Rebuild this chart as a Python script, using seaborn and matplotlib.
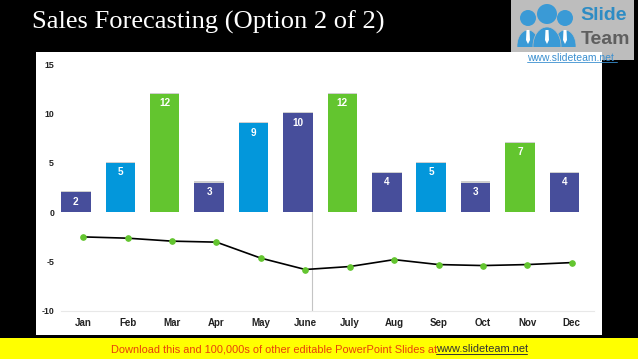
import matplotlib
matplotlib.use("Agg")
import matplotlib.pyplot as plt
from matplotlib.patches import Rectangle, Circle, Polygon, Ellipse
import matplotlib.patheffects as pe
import seaborn as sns
import pandas as pd

months = ["Jan", "Feb", "Mar", "Apr", "May", "June", "July", "Aug", "Sep", "Oct", "Nov", "Dec"]
bar_values = [2, 5, 12, 3, 9, 10, 12, 4, 5, 3, 7, 4]
line_values = [-2.5, -2.63, -2.93, -3.03, -4.65, -5.8, -5.5, -4.8, -5.3, -5.4, -5.3, -5.1]
bar_groups = ["n", "b", "g", "n", "b", "n", "g", "n", "b", "n", "g", "n"]
palette = {"n": "#474E9B", "b": "#0397DB", "g": "#63C52F"}
yticks = [-10, -5, 0, 5, 10, 15]

W, H = 638, 359
BAR_SHIFT = -0.165
sns.set_theme(style="white")
plt.rcParams["font.family"] = ["Liberation Sans", "DejaVu Sans"]
plt.rcParams["axes.unicode_minus"] = False

fig = plt.figure(figsize=(W / 100, H / 100), dpi=100, facecolor="black")

# page furniture in pixel coordinates
bg = fig.add_axes([0, 0, 1, 1], zorder=0)
bg.set_xlim(0, W); bg.set_ylim(H, 0); bg.axis("off")
bg.add_patch(Rectangle((36, 52), 566, 283, fc="white", ec="none"))
bg.add_patch(Rectangle((0, 338), W, 21, fc="#FFFF00", ec="none"))
bg.text(32, 22.5, "Sales Forecasting (Option 2 of 2)", family="Liberation Serif", color="white",
        fontsize=19.05, va="center", ha="left")
bg.text(111, 349.5, "Download this and 100,000s of other editable PowerPoint Slides at",
        color="#E8420A", fontsize=7.95, va="center", ha="left")
bg.text(436, 349.5, "www.slideteam.net", color="#333333", fontsize=7.95, va="center", ha="left")
bg.plot([436, 527], [354, 354], color="#333333", lw=0.7)

# logo
bg.add_patch(Rectangle((511, 0), 123, 60, fc="#BDBDBD", ec="none"))
logo = "#3A9AD6"
body_clip = Rectangle((511, 0), 123, 46.5, transform=bg.transData)
for cx, cy, r, bw, bh in [(528, 18, 8, 22, 32), (565, 18, 8, 22, 32), (547, 14, 10, 28, 38)]:
    bg.add_patch(Circle((cx, cy), r, fc=logo, ec="none"))
    body = bg.add_patch(Ellipse((cx, 46), bw, bh, fc=logo, ec="#BDBDBD", lw=0.5))
    body.set_clip_path(body_clip)
    bg.add_patch(Polygon([(cx - 1.5, 30), (cx + 1.5, 30), (cx + 2, 40), (cx, 44), (cx - 2, 40)], fc="white", ec="none"))
bg.text(580, 16, "Slide", color="#2E8CC4", fontsize=14, fontweight="bold", va="center", ha="left")
bg.text(581, 40, "Team", color="#5F5F5F", fontsize=14, fontweight="bold", va="center", ha="left")
bg.add_patch(Rectangle((511, 52), 91, 8, fc="white", ec="none"))
bg.text(527, 58, "www.slideteam.net", color="#3A8FD0", fontsize=7.5, va="center", ha="left")
bg.plot([527, 617], [62, 62], color="#3A8FD0", lw=0.6)

# chart
ax = fig.add_axes([61 / W, 1 - 311 / H, 533 / W, 247 / H], zorder=1, facecolor="none")
df = pd.DataFrame({"month": months, "value": bar_values, "group": bar_groups, "line": line_values})
sns.barplot(data=df, x="month", y="value", hue="group", palette=palette, order=months,
            dodge=False, legend=False, width=0.665, saturation=1, linewidth=0, ax=ax)
for p in ax.patches:
    p.set_x(p.get_x() + BAR_SHIFT)
    p.set_path_effects([pe.SimplePatchShadow(offset=(0, 0.8), shadow_rgbFace="#888888", alpha=0.4), pe.Normal()])
sns.lineplot(data=df, x="month", y="line", color="black", lw=1.2, sort=False, ax=ax,
             marker="o", markersize=4, markerfacecolor="#63C52F", markeredgecolor="#63C52F")
for i, v in enumerate(bar_values):
    ax.text(i + BAR_SHIFT, v - 0.95, str(v), color="white", fontsize=7.2, fontweight="bold", ha="center", va="center")
ax.plot([5.16, 5.16], [0, -10], color="#C4C4C4", lw=0.8, zorder=1)

ax.set_xlim(-0.5, 11.5)
ax.set_ylim(-10, 15)
ax.set_yticks(yticks)
ax.set_xlabel(""); ax.set_ylabel("")
ax.tick_params(axis="y", length=0, pad=5, labelsize=6.3, colors="#222222")
ax.tick_params(axis="x", length=0, pad=5, labelsize=7, colors="#222222")
for lab in ax.get_yticklabels() + ax.get_xticklabels():
    lab.set_fontweight("bold")
for s in ["top", "right", "left"]:
    ax.spines[s].set_visible(False)
ax.spines["bottom"].set_color("#E8E8E8")
ax.spines["bottom"].set_linewidth(0.8)
ax.grid(False)

fig.savefig("out.png", dpi=100, facecolor="black")
